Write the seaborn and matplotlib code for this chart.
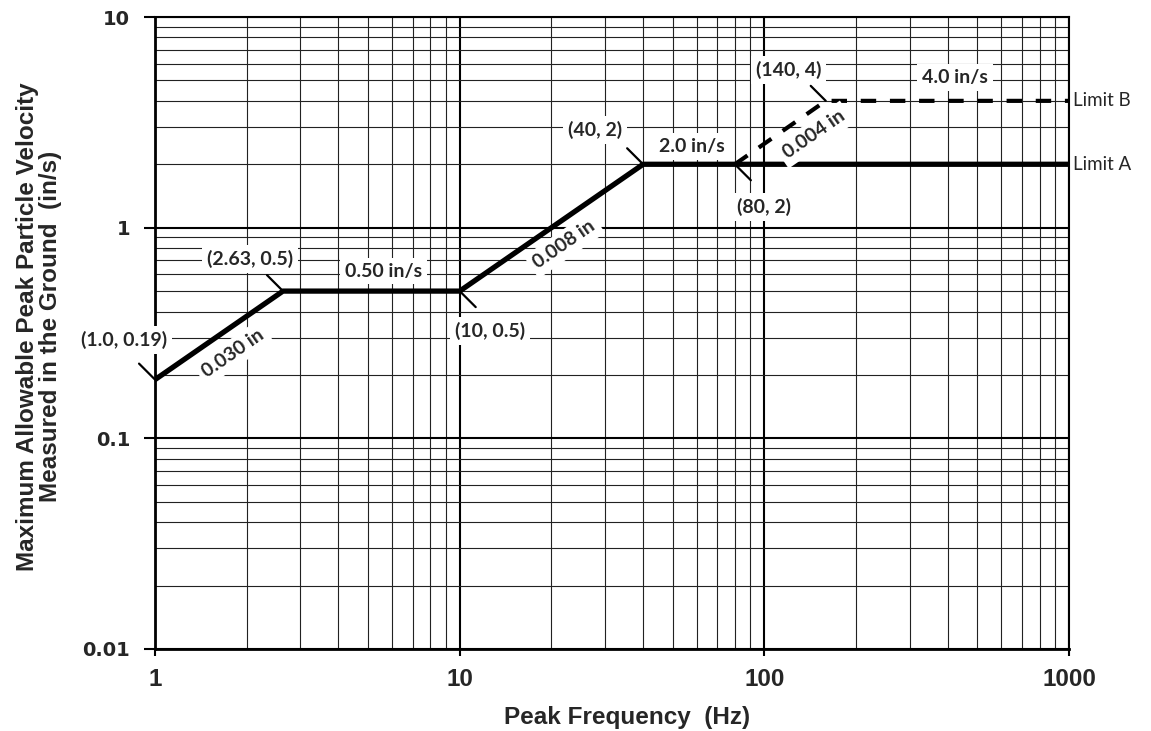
import numpy as np
import pandas as pd
import matplotlib
matplotlib.use('Agg')
import matplotlib.pyplot as plt
import seaborn as sns
from matplotlib.ticker import LogLocator, NullFormatter

# limit curves
freq_a = [1.0, 2.63, 10, 40, 1000]
vel_a = [0.19, 0.5, 0.5, 2.0, 2.0]
freq_b = [80, 159, 1000]
vel_b = [2.0, 4.0, 4.0]

x_ticks = [1, 10, 100, 1000]
x_tick_labels = ['1', '10', '100', '1000']
y_ticks = [0.01, 0.1, 1, 10]
y_tick_labels = ['0.01', '0.1', '1', '10']

corner_labels = ['(1.0, 0.19)', '(2.63, 0.5)', '(10, 0.5)', '(40, 2)', '(80, 2)', '(140, 4)']
slope_labels = ['0.030 in', '0.008 in', '0.004 in']
plateau_labels = ['0.50 in/s', '2.0 in/s', '4.0 in/s']
limit_names = ['Limit A', 'Limit B']

sns.set_style('ticks')
ann_font = ['Lato', 'DejaVu Sans']
narrow = ['Liberation Sans Narrow', 'Liberation Sans']

fig, ax = plt.subplots(figsize=(11.51, 7.31), dpi=100)
fig.subplots_adjust(left=0.1347, right=0.9288, top=0.9767, bottom=0.1122)

df_a = pd.DataFrame({'freq': freq_a, 'vel': vel_a})
df_b = pd.DataFrame({'freq': freq_b, 'vel': vel_b})
sns.lineplot(data=df_a, x='freq', y='vel', sort=False, estimator=None,
             color='black', lw=3.8, ax=ax, zorder=5)
sns.lineplot(data=df_b, x='freq', y='vel', sort=False, estimator=None,
             color='black', lw=3.0, ax=ax, zorder=5)
ax.lines[-1].set_dashes([3.7, 3.3])

ax.set_xscale('log')
ax.set_yscale('log')
ax.set_xlim(1, 1000)
ax.set_ylim(0.01, 10)

ax.set_xticks(x_ticks, x_tick_labels, fontsize=17.5, fontweight='bold',
              family='Liberation Sans')
ax.set_yticks(y_ticks, y_tick_labels, fontsize=14, fontweight='bold',
              family='DejaVu Sans')
ax.xaxis.set_minor_locator(LogLocator(base=10, subs=np.arange(2, 10)))
ax.yaxis.set_minor_locator(LogLocator(base=10, subs=np.arange(2, 10)))
ax.xaxis.set_minor_formatter(NullFormatter())
ax.yaxis.set_minor_formatter(NullFormatter())

ax.grid(which='major', color='black', lw=1.5)
ax.grid(which='minor', color='#222222', lw=0.8)
ax.set_axisbelow(True)

ax.tick_params(axis='both', which='minor', length=0)
ax.tick_params(axis='y', which='major', length=8, width=1.5, pad=10, color='black')
ax.tick_params(axis='x', which='major', length=5, width=1.5, pad=9, color='black')

for side in ['left', 'bottom']:
    ax.spines[side].set_linewidth(2)
    ax.spines[side].set_color('black')
for side in ['top', 'right']:
    ax.spines[side].set_linewidth(1.5)
    ax.spines[side].set_color('black')

ax.set_xlabel('Peak Frequency  (Hz)', fontsize=17.5, fontweight='bold', family=narrow)
ax.xaxis.set_label_coords(0.516, -0.108)
ax.xaxis.label.set_va('center')
ax.set_ylabel('Maximum Allowable Peak Particle Velocity\nMeasured in the Ground  (in/s)',
              fontsize=17.5, fontweight='bold', linespacing=1.05, family=narrow)
ax.yaxis.set_label_coords(-0.127, 0.51)
ax.yaxis.label.set_va('center')

box = dict(boxstyle='square,pad=0.25', fc='white', ec='none')
corner_pts = [(freq_a[0], vel_a[0]), (freq_a[1], vel_a[1]), (freq_a[2], vel_a[2]),
              (freq_a[3], vel_a[3]), (freq_b[0], vel_b[0]), (freq_b[1], vel_b[1])]
corner_offsets = [(-31, 40), (-33, 32), (30, -40), (-48, 34), (29, -43), (-37, 31)]
tick_dirs = [(-16, 16), (-16, 16), (16, -16), (-16, 16), (16, -16), (-15, 15)]
for (f, v), text, off, td in zip(corner_pts, corner_labels, corner_offsets, tick_dirs):
    ax.annotate('', xy=(f, v), xytext=td, textcoords='offset pixels',
                arrowprops=dict(arrowstyle='-', color='black', lw=1.6,
                                shrinkA=0, shrinkB=0), zorder=6)
    ax.annotate(text, xy=(f, v), xytext=off, textcoords='offset pixels',
                ha='center', va='center', fontsize=14, fontweight='bold',
                family=ann_font, bbox=box, zorder=7, annotation_clip=False)

# slope labels at geometric midpoints of sloped segments
slope_segs = [(0, 1, freq_a, vel_a), (2, 3, freq_a, vel_a), (0, 1, freq_b, vel_b)]
slope_offsets = [(14, -18), (13, -17), (34, -2)]
for (i, j, fx, vy), text, off in zip(slope_segs, slope_labels, slope_offsets):
    fm = np.sqrt(fx[i] * fx[j])
    vm = np.sqrt(vy[i] * vy[j])
    ax.annotate(text, xy=(fm, vm), xytext=off, textcoords='offset pixels',
                ha='center', va='center', rotation=34.7, rotation_mode='anchor',
                fontsize=14, fontweight='bold', family=ann_font, bbox=box, zorder=7)

plateau_pts = [(freq_a[2], vel_a[2]), (freq_a[3], vel_a[3]), (freq_b[1], vel_b[1])]
plateau_offsets = [(-76, 20), (49, 18), (129, 23)]
for (f, v), text, off in zip(plateau_pts, plateau_labels, plateau_offsets):
    ax.annotate(text, xy=(f, v), xytext=off, textcoords='offset pixels',
                ha='center', va='center', fontsize=14, fontweight='bold',
                family=ann_font, bbox=box, zorder=7)

for v, name in zip([vel_a[-1], vel_b[-1]], limit_names):
    ax.annotate(name, xy=(1000, v), xytext=(4, 0), textcoords='offset pixels',
                ha='left', va='center', fontsize=13.5, family=ann_font,
                annotation_clip=False)

fig.savefig('out.png', dpi=100)
